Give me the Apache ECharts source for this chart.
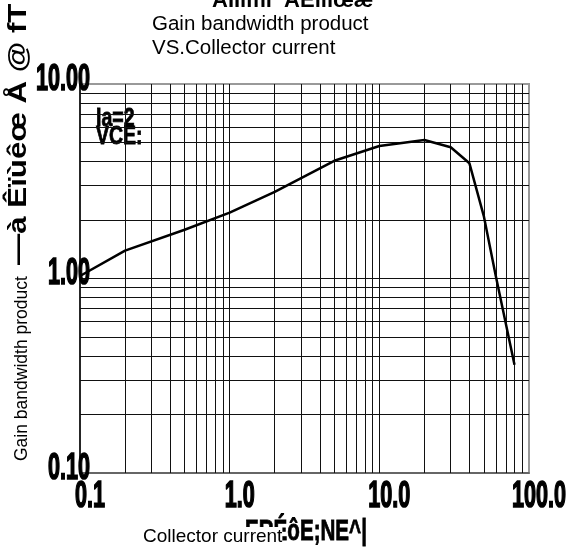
<!DOCTYPE html>
<html>
<head>
<meta charset="utf-8">
<script src="https://cdn.jsdelivr.net/npm/echarts@6/dist/echarts.min.js"></script>
<style>
html,body{margin:0;padding:0;background:#fff}
#chart{width:571px;height:552px}
</style>
</head>
<body>
<div id="chart"></div>
<script>
// collector current (mA) vs gain bandwidth product
var currentMA = [0.1, 0.2, 0.5, 1, 2, 5, 10, 20, 30, 40, 50, 60, 80];
var gainBW = [1.03, 1.39, 1.78, 2.18, 2.79, 4.03, 4.8, 5.15, 4.73, 3.91, 2.08, 1.03, 0.36];

var xTicks = [0.1, 1, 10, 100];
var xTickLabels = ['0.1', '1.0', '10.0', '100.0'];
var yTicks = [0.1, 1, 10];
var yTickLabels = ['0.10', '1.00', '10.00'];

// log paper grid lines
var xGrid = [0.2, 0.3, 0.4, 0.5, 0.6, 0.7, 0.8, 0.9, 1, 2, 3, 4, 5, 6, 7, 8, 9, 10, 20, 30, 40, 50, 60, 70, 80, 90];
var yGrid = [0.2, 0.3, 0.4, 0.5, 0.6, 0.7, 0.8, 0.9, 1, 2, 3, 4, 5, 6, 7, 8, 9];

var plain = "'Liberation Sans', Arial, sans-serif";
var tickFont = 'bold 36px ' + plain;

var gridLines = [];
xGrid.forEach(function(v){ gridLines.push({xAxis: v}); });
yGrid.forEach(function(v){ gridLines.push({yAxis: v}); });

var notes = [
	{
		type: 'text', left: 212, top: -10, z: 0,
		style: {text: 'ÀÌÌìmï  ÂÊïìïœæ', font: 'bold 22px ' + plain, fill: '#000'}
	},
	{
		type: 'text', x: 19, y: 265, rotation: Math.PI / 2, scaleX: 1.25, z: 5,
		style: {text: '—à Êïùêœ Å @ fT', font: 'bold 25px ' + plain, fill: '#000',
			textAlign: 'left', textVerticalAlign: 'middle'}
	},
	{
		type: 'text', x: 22, y: 461, rotation: Math.PI / 2, z: 6,
		style: {text: 'Gain bandwidth product', font: '17.5px ' + plain, fill: '#000',
			textAlign: 'left', textVerticalAlign: 'middle', backgroundColor: '#fff'}
	},
	{
		type: 'text', x: 245, y: 532, scaleX: 0.71, z: 5,
		style: {text: 'ERÉôE;NE^|', font: 'bold 29px ' + plain, fill: '#000',
			stroke: '#000', lineWidth: 0.8, textAlign: 'left', textVerticalAlign: 'middle'}
	},
	{
		type: 'text', left: 143, top: 527, z: 6,
		style: {text: 'Collector current', font: '19px ' + plain, fill: '#000',
			backgroundColor: '#fff'}
	},
	{
		type: 'group', left: 90, top: 105, z: 20,
		children: [
			{type: 'rect', shape: {x: 0, y: 0, width: 58, height: 60}, style: {fill: '#fff'}},
			{type: 'text', x: 6, y: 14, scaleX: 0.78, style: {text: 'Ia=2', font: 'bold 25px ' + plain, fill: '#000',
				stroke: '#000', lineWidth: 0.8, textVerticalAlign: 'middle'}},
			{type: 'text', x: 6, y: 32, scaleX: 0.78, style: {text: 'VCE:', font: 'bold 25px ' + plain, fill: '#000',
				stroke: '#000', lineWidth: 0.8, textVerticalAlign: 'middle'}}
		]
	}
];

var chart = echarts.init(document.getElementById('chart'));
var option = {
	animation: false,
	backgroundColor: '#fff',
	title: {
		text: 'Gain bandwidth product\nVS.Collector current',
		left: 152,
		top: 12,
		padding: 0,
		backgroundColor: '#fff',
		textStyle: {
			fontFamily: plain,
			fontSize: 20.5,
			fontWeight: 'normal',
			color: '#000',
			lineHeight: 24
		}
	},
	grid: {
		left: 80,
		top: 84,
		right: 42,
		bottom: 79,
		outerBoundsMode: 'none',
		containLabel: false,
		show: true,
		borderColor: '#999',
		borderWidth: 2
	},
	xAxis: {
		type: 'log',
		logBase: 10,
		min: 0.1,
		max: 100,
		axisLine: {lineStyle: {color: '#555', width: 1.5}},
		axisTick: {show: false},
		splitLine: {show: false},
		axisLabel: {show: false}
	},
	yAxis: {
		type: 'log',
		logBase: 10,
		min: 0.1,
		max: 10,
		axisLine: {lineStyle: {color: '#000', width: 1.5}},
		axisTick: {show: false},
		splitLine: {show: false},
		axisLabel: {show: false}
	},
	graphic: notes,
	series: [
		{
			name: 'fT',
			type: 'line',
			data: currentMA.map(function(c, i){ return [c, gainBW[i]]; }),
			symbol: 'none',
			smooth: false,
			lineStyle: {color: '#000', width: 2.5},
			z: 10,
			markLine: {
				silent: true,
				symbol: ['none', 'none'],
				label: {show: false},
				lineStyle: {color: '#111', width: 1, type: 'solid'},
				data: gridLines
			}
		}
	]
};
chart.setOption(option);

// tall narrow tick labels, placed at the axis positions the scales give
var tickText = [];
xTicks.forEach(function(v, i){
	var px = chart.convertToPixel({xAxisIndex: 0}, v);
	tickText.push({type: 'text', x: px + 10, y: 497, scaleX: 0.6, z: 30,
		style: {text: xTickLabels[i], font: tickFont, fill: '#000', stroke: '#000', lineWidth: 1.6,
			textAlign: 'center', textVerticalAlign: 'middle'}});
});
yTicks.forEach(function(v, i){
	var py = chart.convertToPixel({yAxisIndex: 0}, v);
	tickText.push({type: 'text', x: 90, y: py - 4, scaleX: 0.6, z: 30,
		style: {text: yTickLabels[i], font: tickFont, fill: '#000', stroke: '#000', lineWidth: 1.6,
			textAlign: 'right', textVerticalAlign: 'middle'}});
});
chart.setOption({graphic: notes.concat(tickText)});
</script>
</body>
</html>
